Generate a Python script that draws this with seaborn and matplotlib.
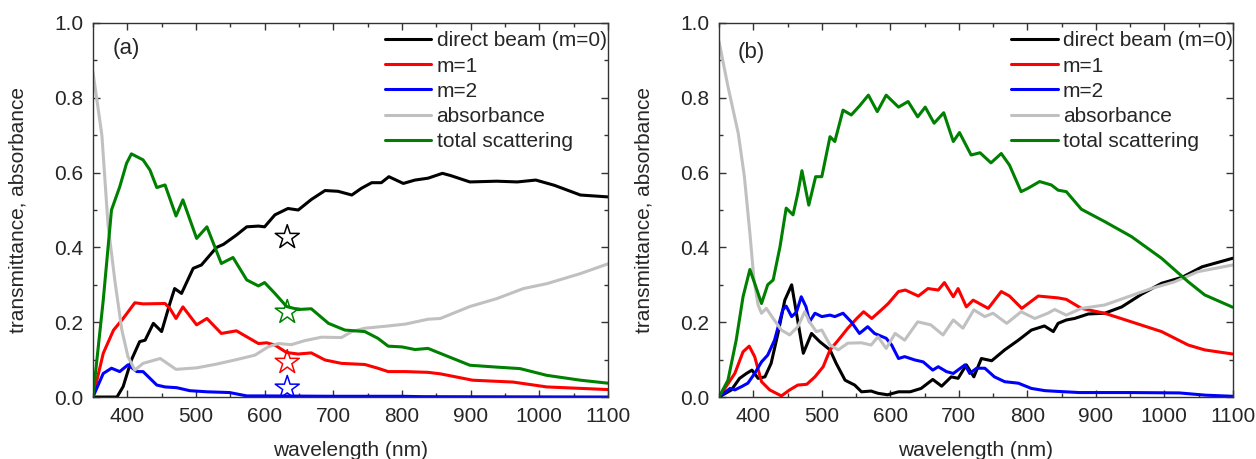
import numpy as np
import pandas as pd
import matplotlib
matplotlib.use("Agg")
import matplotlib.pyplot as plt
import seaborn as sns
from matplotlib.ticker import MultipleLocator, FormatStrFormatter

# ---------------- data: panel (a) ----------------
a_black_wl = [350, 385, 394, 406, 418, 426, 438, 450, 462, 469, 479, 496, 508, 530, 540, 559, 574, 591, 600, 615,
              634, 649, 668, 688, 707, 727, 741, 756, 770, 781, 802, 819, 838, 859, 871, 899, 938, 968, 995, 1022,
              1060, 1100]
a_black = [0, 0, 0.028, 0.099, 0.148, 0.152, 0.197, 0.175, 0.25, 0.29, 0.277, 0.344, 0.353, 0.40, 0.408, 0.433,
           0.455, 0.457, 0.455, 0.487, 0.504, 0.5, 0.528, 0.552, 0.55, 0.54, 0.558, 0.573, 0.573, 0.589, 0.571, 0.58,
           0.585, 0.598, 0.592, 0.575, 0.577, 0.575, 0.58, 0.566, 0.54, 0.535]

a_red_wl = [350, 365, 380, 394, 411, 423, 455, 462, 471, 481, 501, 516, 537, 559, 591, 603, 615, 632, 649, 668,
            688, 712, 746, 765, 780, 805, 838, 856, 903, 962, 1011, 1100]
a_red = [0, 0.117, 0.179, 0.21, 0.252, 0.249, 0.25, 0.237, 0.21, 0.241, 0.193, 0.21, 0.17, 0.177, 0.143, 0.145,
         0.139, 0.119, 0.115, 0.118, 0.099, 0.09, 0.087, 0.077, 0.068, 0.068, 0.066, 0.062, 0.045, 0.04, 0.027, 0.02]

a_blue_wl = [350, 365, 377, 389, 401, 414, 423, 443, 455, 472, 491, 516, 549, 574, 600, 700, 800, 830, 1100]
a_blue = [0, 0.063, 0.077, 0.068, 0.086, 0.068, 0.068, 0.032, 0.027, 0.025, 0.017, 0.014, 0.012, 0.003, 0.003,
          0.002, 0.002, 0.001, 0.0]

a_gray_wl = [350, 363, 372, 382, 392, 401, 411, 423, 448, 471, 501, 530, 559, 586, 605, 620, 639, 659, 683, 712,
             727, 746, 780, 805, 838, 856, 899, 938, 977, 1011, 1060, 1100]
a_gray = [0.869, 0.70, 0.46, 0.31, 0.18, 0.108, 0.072, 0.09, 0.103, 0.074, 0.078, 0.088, 0.1, 0.112, 0.134, 0.143,
          0.14, 0.151, 0.16, 0.159, 0.175, 0.184, 0.19, 0.195, 0.208, 0.21, 0.242, 0.263, 0.29, 0.303, 0.33, 0.356]

a_green_wl = [350, 365, 377, 389, 399, 406, 423, 433, 443, 455, 471, 481, 501, 516, 537, 554, 574, 591, 600, 615,
              632, 649, 668, 693, 717, 746, 765, 780, 800, 819, 838, 865, 899, 938, 972, 1011, 1060, 1100]
a_green = [0, 0.259, 0.5, 0.562, 0.625, 0.65, 0.634, 0.607, 0.56, 0.567, 0.484, 0.527, 0.424, 0.455, 0.357, 0.373,
           0.313, 0.297, 0.306, 0.277, 0.242, 0.234, 0.236, 0.197, 0.179, 0.175, 0.157, 0.136, 0.134, 0.127, 0.13,
           0.11, 0.085, 0.08, 0.076, 0.058, 0.045, 0.037]

# open stars at 633 nm in panel (a)
star_wl = [633, 633, 633, 633]
star_val = [0.427, 0.227, 0.093, 0.024]
star_colors = ["black", "green", "red", "blue"]

# ---------------- data: panel (b) ----------------
b_black_wl = [350, 368, 380, 390, 398, 407, 417, 426, 436, 446, 456, 463, 473, 485, 497, 512, 521, 534, 548, 558,
              572, 582, 596, 612, 629, 645, 662, 675, 689, 699, 711, 722, 733, 748, 767, 787, 806, 825, 838, 845,
              857, 869, 889, 913, 938, 967, 996, 1026, 1055, 1100]
b_black = [0, 0.019, 0.05, 0.063, 0.072, 0.05, 0.054, 0.09, 0.17, 0.259, 0.30, 0.224, 0.117, 0.17, 0.148, 0.126,
           0.09, 0.045, 0.032, 0.014, 0.016, 0.01, 0.006, 0.014, 0.014, 0.023, 0.047, 0.029, 0.054, 0.05, 0.086,
           0.054, 0.103, 0.097, 0.126, 0.152, 0.179, 0.19, 0.175, 0.197, 0.206, 0.21, 0.222, 0.224, 0.241, 0.275,
           0.304, 0.32, 0.348, 0.371]

b_red_wl = [350, 373, 385, 394, 402, 412, 424, 441, 453, 465, 478, 490, 502, 512, 524, 538, 551, 561, 573, 587,
            597, 612, 622, 641, 655, 670, 679, 692, 699, 711, 721, 743, 762, 774, 792, 816, 845, 857, 879, 913,
            952, 996, 1035, 1059, 1100]
b_red = [0, 0.063, 0.121, 0.136, 0.108, 0.041, 0.019, 0.003, 0.019, 0.032, 0.034, 0.054, 0.081, 0.126, 0.152,
         0.184, 0.21, 0.228, 0.21, 0.233, 0.25, 0.282, 0.286, 0.27, 0.29, 0.286, 0.306, 0.268, 0.29, 0.241, 0.259,
         0.237, 0.282, 0.27, 0.237, 0.27, 0.265, 0.261, 0.237, 0.224, 0.201, 0.175, 0.139, 0.126, 0.115]

b_blue_wl = [350, 366, 373, 383, 392, 402, 412, 421, 431, 443, 448, 456, 463, 470, 477, 482, 490, 500, 512, 519,
             531, 543, 555, 567, 577, 594, 602, 612, 621, 636, 648, 662, 670, 682, 692, 709, 716, 726, 738, 752,
             767, 787, 806, 826, 845, 876, 949, 1022, 1060, 1100]
b_blue = [0, 0.023, 0.019, 0.028, 0.037, 0.063, 0.094, 0.112, 0.152, 0.233, 0.243, 0.215, 0.227, 0.268, 0.241,
          0.201, 0.224, 0.215, 0.219, 0.215, 0.224, 0.201, 0.17, 0.188, 0.17, 0.157, 0.139, 0.103, 0.108, 0.099,
          0.094, 0.072, 0.081, 0.068, 0.063, 0.086, 0.063, 0.077, 0.077, 0.054, 0.041, 0.037, 0.023, 0.017, 0.015,
          0.012, 0.012, 0.011, 0.005, 0.002]

b_gray_wl = [350, 363, 378, 387, 395, 401, 407, 412, 419, 429, 441, 453, 465, 475, 482, 492, 500, 512, 524, 538,
             558, 572, 582, 594, 607, 621, 640, 659, 677, 692, 706, 722, 738, 750, 770, 791, 811, 830, 840, 857,
             879, 913, 947, 981, 1015, 1049, 1100]
b_gray = [0.95, 0.83, 0.705, 0.589, 0.438, 0.313, 0.246, 0.224, 0.237, 0.21, 0.179, 0.166, 0.188, 0.228, 0.201,
          0.175, 0.179, 0.139, 0.126, 0.144, 0.145, 0.139, 0.161, 0.13, 0.17, 0.152, 0.201, 0.193, 0.166, 0.206,
          0.184, 0.233, 0.215, 0.224, 0.197, 0.228, 0.21, 0.224, 0.234, 0.219, 0.237, 0.246, 0.268, 0.29, 0.308,
          0.335, 0.353]

b_green_wl = [350, 363, 375, 385, 395, 402, 412, 421, 429, 439, 448, 458, 465, 471, 481, 491, 500, 512, 519, 531,
              543, 555, 568, 581, 594, 612, 626, 640, 651, 664, 678, 692, 701, 718, 731, 747, 762, 774, 791, 801,
              818, 835, 845, 857, 879, 913, 952, 996, 1035, 1059, 1100]
b_green = [0, 0.045, 0.152, 0.268, 0.341, 0.304, 0.25, 0.3, 0.313, 0.402, 0.505, 0.487, 0.545, 0.605, 0.513,
           0.589, 0.589, 0.696, 0.683, 0.767, 0.754, 0.778, 0.807, 0.763, 0.807, 0.775, 0.79, 0.749, 0.775, 0.732,
           0.76, 0.683, 0.707, 0.647, 0.653, 0.626, 0.651, 0.62, 0.549, 0.558, 0.576, 0.567, 0.553, 0.549, 0.502,
           0.469, 0.429, 0.371, 0.308, 0.273, 0.24]

labels = ["direct beam (m=0)", "m=1", "m=2", "absorbance", "total scattering"]
colors = ["#000000", "#ff0000", "#0000ff", "#c0c0c0", "#008000"]

panel_a = [(a_black_wl, a_black), (a_red_wl, a_red), (a_blue_wl, a_blue), (a_gray_wl, a_gray), (a_green_wl, a_green)]
panel_b = [(b_black_wl, b_black), (b_red_wl, b_red), (b_blue_wl, b_blue), (b_gray_wl, b_gray), (b_green_wl, b_green)]

# ---------------- style ----------------
sns.set_theme(style="ticks")
plt.rcParams["font.family"] = ["Liberation Sans", "DejaVu Sans"]
plt.rcParams["axes.linewidth"] = 1.0
plt.rcParams["axes.edgecolor"] = "#333333"

FS = 15

fig = plt.figure(figsize=(12.56, 4.59), dpi=100)
ax_a = fig.add_axes([0.074, 0.135, 0.410, 0.815])
ax_b = fig.add_axes([0.5725, 0.135, 0.409, 0.815])


def draw(ax, series, tag, tag_xy, leg_x):
    for (wl, vals), lab, col in zip(series, labels, colors):
        df = pd.DataFrame({"wavelength": wl, "value": vals})
        sns.lineplot(data=df, x="wavelength", y="value", ax=ax, color=col, lw=2.2,
                     label=lab, estimator=None, sort=False, errorbar=None)
    ax.set_xlim(350, 1100)
    ax.set_ylim(0, 1.0)
    ax.set_xticks(range(400, 1101, 100))
    ax.xaxis.set_minor_locator(MultipleLocator(50))
    ax.yaxis.set_major_locator(MultipleLocator(0.2))
    ax.yaxis.set_minor_locator(MultipleLocator(0.1))
    ax.yaxis.set_major_formatter(FormatStrFormatter("%.1f"))
    ax.tick_params(which="both", direction="in", top=True, right=True, labelsize=FS,
                   color="#333333", pad=7)
    ax.tick_params(which="major", length=5, width=1)
    ax.tick_params(which="minor", length=3, width=1)
    ax.set_xlabel("wavelength (nm)", fontsize=FS)
    ax.set_ylabel("transmittance, absorbance", fontsize=FS)
    ax.xaxis.set_label_coords(0.5, -0.118)
    ax.yaxis.set_label_coords(-0.128, 0.5)
    ax.text(tag_xy[0], tag_xy[1], tag, transform=ax.transAxes, fontsize=16, ha="left", va="center")
    leg = ax.legend(loc="upper left", bbox_to_anchor=(leg_x, 1.0), frameon=False, fontsize=FS,
                    handlelength=2.25, handletextpad=0.25, labelspacing=0.3, borderaxespad=0.0)
    for h in leg.get_lines():
        h.set_linewidth(2.2)


draw(ax_a, panel_a, "(a)", (0.039, 0.933), 0.550)
draw(ax_b, panel_b, "(b)", (0.037, 0.92), 0.552)

star_df = pd.DataFrame({"wavelength": star_wl, "value": star_val, "c": star_colors})
for _, r in star_df.iterrows():
    ax_a.scatter([r["wavelength"]], [r["value"]], marker="*", s=330, facecolors="none",
                 edgecolors=r["c"], linewidths=1.1, zorder=5)

fig.savefig("out.png", dpi=100)
